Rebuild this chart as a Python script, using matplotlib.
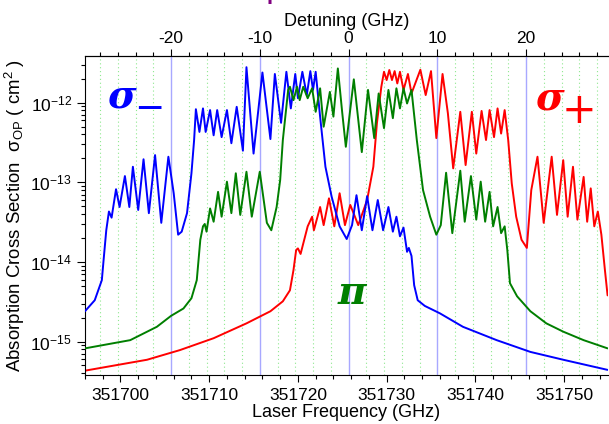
import numpy as np
import matplotlib
matplotlib.use('Agg')
import matplotlib.pyplot as plt
from matplotlib.ticker import MultipleLocator, LogLocator, NullFormatter, FormatStrFormatter

plt.rcParams['font.family'] = ['Liberation Sans', 'DejaVu Sans']
plt.rcParams['mathtext.fontset'] = 'custom'
plt.rcParams['mathtext.rm'] = 'Liberation Sans'
plt.rcParams['mathtext.it'] = 'Liberation Sans:italic'
plt.rcParams['axes.unicode_minus'] = False

# zero detuning (GHz)
f0 = 351725.72

# sigma- (blue)
blue_f = [351696.0, 351697.1, 351697.9, 351698.1, 351698.4, 351698.7, 351699.0, 351699.5, 351699.9, 351700.5,
          351701.0, 351701.4, 351702.0, 351702.6, 351703.2, 351703.9, 351704.6, 351705.4, 351706.0, 351706.5,
          351706.9, 351707.5, 351708.0, 351708.3, 351708.5, 351708.9, 351709.3, 351709.6, 351710.1, 351710.5,
          351710.9, 351711.4, 351712.0, 351712.5, 351713.1, 351713.8, 351714.2, 351715.0, 351716.0, 351716.9,
          351717.4, 351718.1, 351718.7, 351719.2, 351719.7, 351720.0, 351720.5, 351721.0, 351721.4, 351721.7,
          351722.0, 351722.5, 351723.1, 351723.8, 351724.7, 351725.5, 351726.1, 351726.6, 351727.2, 351727.8,
          351728.4, 351729.0, 351729.6, 351730.2, 351730.7, 351731.1, 351731.5, 351731.9, 351732.3, 351732.5,
          351732.8, 351733.1, 351733.5, 351734.3, 351736.0, 351738.6, 351742.4, 351746.2, 351749.9, 351754.9]
blue_s = [2.4e-15, 3.3e-15, 5.9e-15, 1.06e-14, 2.5e-14, 4.3e-14, 3.6e-14, 8.2e-14, 4.9e-14, 1.2e-13,
          4.9e-14, 1.57e-13, 4.5e-14, 1.95e-13, 4.1e-14, 2.2e-13, 3.1e-14, 2.1e-13, 7.3e-14, 2.2e-14,
          2.4e-14, 4.1e-14, 1.3e-13, 3.4e-13, 8.3e-13, 4.3e-13, 8.5e-13, 4.3e-13, 8.1e-13, 3.9e-13,
          8.1e-13, 3.7e-13, 8.1e-13, 3.1e-13, 8.9e-13, 2.5e-13, 2.8e-12, 2.3e-13, 2.4e-12, 3.5e-13,
          2.3e-12, 5.6e-13, 2.45e-12, 8.5e-13, 2.3e-12, 1.14e-12, 2.45e-12, 1.25e-12, 2.5e-12, 1.45e-12,
          2.45e-12, 6.7e-13, 1.57e-13, 6.6e-14, 2.8e-14, 1.94e-14, 2.9e-14, 6.9e-14, 2.5e-14, 6.7e-14,
          2.5e-14, 6.0e-14, 2.5e-14, 4.9e-14, 2.4e-14, 3.7e-14, 2.1e-14, 2.7e-14, 1.34e-14, 1.5e-14,
          1.19e-14, 5.1e-15, 3.3e-15, 2.8e-15, 2.26e-15, 1.53e-15, 1.04e-15, 7.4e-16, 5.9e-16, 4.4e-16]

# pi (green)
green_f = [351696.0, 351701.1, 351704.1, 351705.7, 351707.1, 351708.0, 351708.6, 351708.8, 351709.0, 351709.3,
           351709.5, 351709.7, 351710.1, 351710.5, 351711.0, 351711.4, 351712.0, 351712.5, 351713.0, 351713.5,
           351714.2, 351714.8, 351715.7, 351716.5, 351717.0, 351717.6, 351718.0, 351718.3, 351718.9, 351719.1,
           351719.5, 351719.9, 351720.2, 351720.6, 351721.1, 351721.6, 351722.0, 351722.5, 351722.9, 351723.6,
           351724.0, 351724.5, 351725.0, 351725.4, 351726.3, 351727.2, 351727.9, 351728.6, 351729.1, 351729.7,
           351730.2, 351730.7, 351731.1, 351731.5, 351731.9, 351732.3, 351732.8, 351733.4, 351734.1, 351734.9,
           351735.6, 351736.1, 351736.7, 351737.4, 351738.3, 351738.8, 351739.5, 351740.1, 351740.6, 351741.1,
           351741.6, 351742.0, 351742.5, 351742.9, 351743.3, 351743.6, 351743.9, 351744.7, 351746.2, 351748.0,
           351749.9, 351752.2, 351754.9]
green_s = [8.2e-16, 1.04e-15, 1.53e-15, 2.1e-15, 2.6e-15, 3.5e-15, 5.9e-15, 1.06e-14, 1.9e-14, 2.8e-14,
           3.0e-14, 2.4e-14, 4.7e-14, 3.2e-14, 7.6e-14, 3.7e-14, 1.02e-13, 4.1e-14, 1.3e-13, 3.9e-14,
           1.36e-13, 3.7e-14, 1.36e-13, 3.1e-14, 2.5e-14, 4.9e-14, 1.07e-13, 3.4e-13, 1.45e-12, 1.59e-12,
           1.08e-12, 1.59e-12, 1.08e-12, 1.59e-12, 1.14e-12, 1.52e-12, 7.7e-13, 1.52e-12, 5.0e-13, 1.37e-12,
           6.7e-13, 2.7e-12, 7.4e-13, 2.8e-13, 1.97e-12, 2.4e-13, 1.45e-12, 3.6e-13, 1.31e-12, 4.8e-13,
           1.45e-12, 6.4e-13, 1.52e-12, 8.5e-13, 1.52e-12, 9.8e-13, 1.45e-12, 3.4e-13, 8.0e-14, 3.7e-14,
           2.2e-14, 2.9e-14, 1.32e-13, 2.3e-14, 1.4e-13, 3.2e-14, 1.2e-13, 3.4e-14, 1.02e-13, 3.2e-14,
           7.6e-14, 2.8e-14, 4.9e-14, 2.3e-14, 2.8e-14, 1.41e-14, 5.4e-15, 3.7e-15, 2.4e-15, 1.69e-15,
           1.33e-15, 1.04e-15, 8.2e-16]

# sigma+ (red)
red_f = [351696.0, 351703.0, 351706.7, 351710.5, 351714.2, 351716.9, 351718.3, 351719.1, 351719.5, 351719.8,
         351720.0, 351720.3, 351720.7, 351721.1, 351721.6, 351721.8, 351722.5, 351722.9, 351723.5, 351724.1,
         351724.7, 351725.3, 351725.9, 351726.8, 351727.8, 351728.5, 351728.9, 351729.4, 351729.7, 351730.0,
         351730.3, 351730.6, 351730.9, 351731.2, 351731.5, 351731.9, 351732.4, 351732.8, 351733.8, 351734.4,
         351735.0, 351735.6, 351736.3, 351736.9, 351737.5, 351738.3, 351738.9, 351739.6, 351740.1, 351740.7,
         351741.2, 351741.6, 351742.1, 351742.5, 351742.9, 351743.3, 351743.7, 351744.1, 351744.6, 351745.2,
         351745.8, 351746.3, 351747.0, 351747.7, 351748.6, 351749.2, 351749.9, 351750.4, 351751.0, 351751.5,
         351752.2, 351752.6, 351753.0, 351753.4, 351753.8, 351754.2, 351754.6, 351754.9]
red_s = [4.3e-16, 5.9e-16, 7.8e-16, 1.1e-15, 1.69e-15, 2.4e-15, 3.2e-15, 4.4e-15, 7.9e-15, 1.41e-14,
         1.48e-14, 1.26e-14, 1.88e-14, 2.8e-14, 3.7e-14, 2.5e-14, 4.9e-14, 2.9e-14, 6.3e-14, 2.8e-14,
         7.3e-14, 2.9e-14, 5.2e-14, 2.9e-14, 6.0e-14, 1.57e-13, 5.5e-13, 1.59e-12, 2.45e-12, 1.93e-12,
         2.58e-12, 1.93e-12, 2.5e-12, 1.75e-12, 2.45e-12, 1.45e-12, 2.3e-12, 1.31e-12, 2.6e-12, 1.25e-12,
         2.5e-12, 3.6e-13, 2.3e-12, 7.4e-13, 1.5e-13, 7.7e-13, 1.65e-13, 7.7e-13, 2.3e-13, 7.9e-13,
         3.4e-13, 8.1e-13, 3.7e-13, 8.5e-13, 4.1e-13, 8.1e-13, 3.4e-13, 9.7e-14, 3.7e-14, 1.9e-14,
         1.5e-14, 8.0e-14, 2.1e-13, 3.1e-14, 2.1e-13, 3.9e-14, 1.9e-13, 3.7e-14, 1.57e-13, 3.4e-14,
         1.17e-13, 3.2e-14, 8.4e-14, 2.8e-14, 4.3e-14, 2.2e-14, 7.9e-15, 3.8e-15]

fig = plt.figure(figsize=(6.09, 4.24), dpi=100)
ax = fig.add_axes([0.1388, 0.1144, 0.8596, 0.7535])

for d in range(-30, 31, 2):
    if d % 10 == 0:
        ax.axvline(f0 + d, color='#a8a8ff', lw=1.0, zorder=1)
    else:
        ax.axvline(f0 + d, color='#8ee88e', lw=0.8, ls=(0, (1, 2.5)), zorder=1)

line_kw = dict(lw=1.4, solid_joinstyle='round', solid_capstyle='round')
ax.plot(blue_f, blue_s, color='#0000ff', zorder=3, **line_kw)
ax.plot(green_f, green_s, color='#007f00', zorder=3, **line_kw)
ax.plot(red_f, red_s, color='#ff0000', zorder=2, **line_kw)

ax.set_yscale('log')
ax.set_xlim(351695.95, 351754.95)
ax.set_ylim(3.74e-16, 3.87e-12)

ax.xaxis.set_major_locator(MultipleLocator(10))
ax.xaxis.set_minor_locator(MultipleLocator(2))
ax.xaxis.set_major_formatter(FormatStrFormatter('%d'))
ax.yaxis.set_major_locator(LogLocator(base=10, numticks=10))
ax.yaxis.set_minor_locator(LogLocator(base=10, subs=np.arange(2, 10), numticks=20))
ax.yaxis.set_minor_formatter(NullFormatter())
ax.tick_params(which='major', direction='out', length=5, width=0.8, labelsize=12.5, pad=4)
ax.tick_params(which='minor', direction='out', length=3, width=0.8)
ax.tick_params(axis='y', which='major', length=6, pad=3)
ax.spines['right'].set_visible(False)

ax.set_xlabel('Laser Frequency (GHz)', fontsize=13, labelpad=1)
ax.set_ylabel('Absorption Cross Section  σ$_{\\mathrm{OP}}$ ( cm$^{\\mathrm{2}}$ )', fontsize=13.4, labelpad=2)

top = ax.secondary_xaxis('top', functions=(lambda x: x - f0, lambda d: d + f0))
top.xaxis.set_major_locator(MultipleLocator(10))
top.xaxis.set_minor_locator(MultipleLocator(2))
top.tick_params(which='major', direction='out', length=5, width=0.8, labelsize=12.5, pad=2)
top.tick_params(which='minor', direction='out', length=3, width=0.8)
top.set_xlabel('Detuning (GHz)', fontsize=13, labelpad=4)

# big state labels
big = dict(family='DejaVu Serif', weight='bold', style='italic', fontsize=28)
ax.text(351700.1, 8.6e-13, 'σ', color='#0000ff', ha='center', va='baseline', **big)
ax.text(351703.2, 6.3e-13, '−', color='#0000ff', ha='center', va='baseline', family='DejaVu Sans', fontsize=26)
ax.text(351748.4, 8.3e-13, 'σ', color='#ff0000', ha='center', va='baseline', **big)
ax.text(351751.7, 5.6e-13, '+', color='#ff0000', ha='center', va='baseline', family='DejaVu Sans', fontsize=30)
ax.text(351726.1, 3.0e-15, 'π', color='#007f00', ha='center', va='baseline', **big)

fig.text(0.437, 1.003, 'p', color='#800080', fontsize=16, fontweight='bold', va='baseline')

fig.savefig('out.png', dpi=100)
